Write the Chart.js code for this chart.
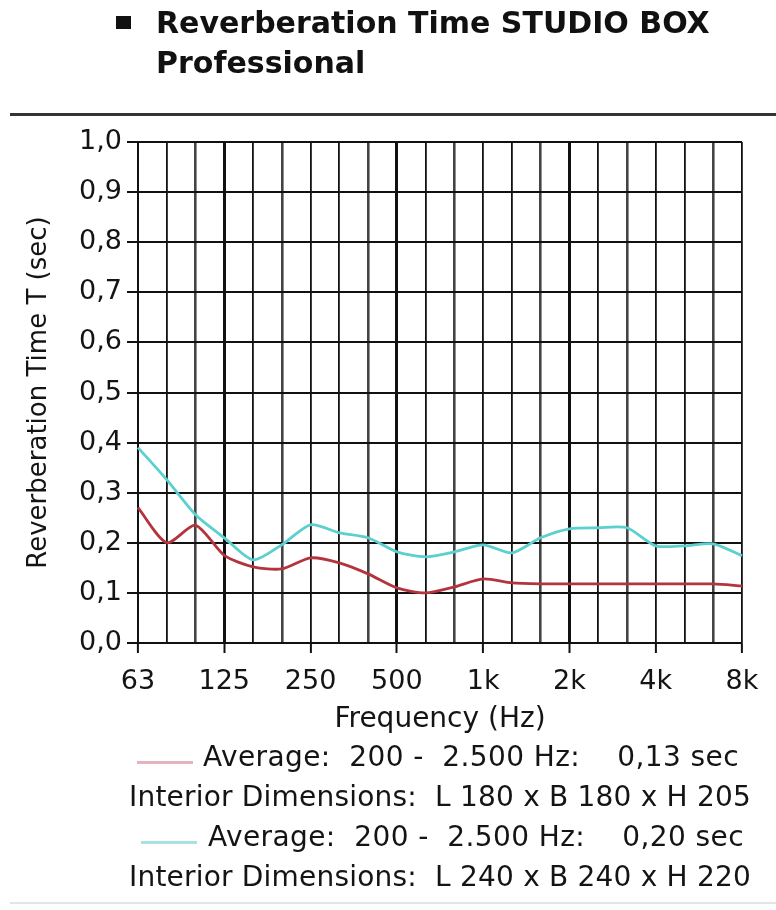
<!DOCTYPE html>
<html>
<head>
<meta charset="utf-8">
<script src="https://cdn.jsdelivr.net/npm/chart.js@4.4.1/dist/chart.umd.min.js"></script>
<style>
  body { margin: 0; background: #fff; font-family: "DejaVu Sans", sans-serif; color: #141414; }
  #page { position: relative; width: 776px; height: 910px; overflow: hidden; }
  #chartBox { position: absolute; left: 0; top: 0; width: 776px; height: 740px; }
  .bullet { position: absolute; left: 116px; top: 16px; width: 15px; height: 13px; background: #111; }
  #title { position: absolute; left: 156px; top: 3px; font-weight: bold; font-size: 30px; line-height: 40px; color: #111; white-space: pre; }
  .rule { position: absolute; left: 10px; width: 766px; }
  .row { position: absolute; font-size: 28px; line-height: 40px; white-space: pre; }
  .avg { letter-spacing: 0.4px; }
  .dim { letter-spacing: 0.2px; }
  .swatch { position: absolute; height: 3px; width: 56px; }
</style>
</head>
<body>
<div id="page">
  <div id="chartBox"><canvas id="rtChart"></canvas></div>

  <div class="bullet"></div>
  <div id="title">Reverberation Time STUDIO BOX
Professional</div>
  <div class="rule" style="top:113px;height:3px;background:#333;"></div>

  <!-- legend -->
  <div class="swatch" style="left:137px;top:761px;background:#e2b4be;"></div>
  <div class="row avg" style="left:203px;top:737px;">Average:  200 -  2.500 Hz:    0,13 sec</div>
  <div class="row dim" style="left:129px;top:777px;">Interior Dimensions:  L 180 x B 180 x H 205</div>
  <div class="swatch" style="left:141px;top:841px;background:#a6e2de;"></div>
  <div class="row avg" style="left:208px;top:817px;">Average:  200 -  2.500 Hz:    0,20 sec</div>
  <div class="row dim" style="left:129px;top:857px;">Interior Dimensions:  L 240 x B 240 x H 220</div>
  <div class="rule" style="top:902px;height:2px;background:#e4e4e4;"></div>
</div>

<script>
// ── Data ────────────────────────────────────────────────────────────
const categories = ['63', '80', '100', '125', '160', '200', '250', '315', '400', '500', '630',
                    '800', '1k', '1.25k', '1.6k', '2k', '2.5k', '3.15k', '4k', '5k', '6.3k', '8k'];
const xTickLabels = ['63', '125', '250', '500', '1k', '2k', '4k', '8k'];
const yTickLabels = ['0,0', '0,1', '0,2', '0,3', '0,4', '0,5', '0,6', '0,7', '0,8', '0,9', '1,0'];

// Room L 180 x B 180 x H 205 (red)
const rtSmall = [0.27, 0.20, 0.235, 0.175, 0.152, 0.148, 0.17, 0.16, 0.138, 0.11, 0.10,
                 0.112, 0.128, 0.12, 0.118, 0.118, 0.118, 0.118, 0.118, 0.118, 0.118, 0.114];
// Room L 240 x B 240 x H 220 (cyan)
const rtLarge = [0.39, 0.326, 0.256, 0.21, 0.166, 0.196, 0.236, 0.22, 0.21, 0.182, 0.172,
                 0.182, 0.196, 0.18, 0.21, 0.228, 0.23, 0.23, 0.194, 0.194, 0.198, 0.174];

Chart.defaults.font.family = '"DejaVu Sans", sans-serif';
Chart.defaults.color = '#141414';

// ── Grid styling helpers ────────────────────────────────────────────
const isMajor = i => xTickLabels.includes(categories[i]);
const vLineWidth = ctx => {
    const i = ctx.index;
    if (i === 3 || i === 9 || i === 15) return 3;
    if (i % 3 === 2) return 2.6;
    return 1.8;
};
const vLineColor = ctx => (ctx.index % 3 === 2 ? '#444' : '#111');

const rtChart = new Chart(document.getElementById('rtChart'), {
    type: 'line',
    data: {
        labels: categories,
        datasets: [
            {
                label: 'L 180 x B 180 x H 205',
                data: rtSmall,
                borderColor: '#b3343e',
                borderWidth: 2.8,
                pointRadius: 0,
                tension: 0.25,
            },
            {
                label: 'L 240 x B 240 x H 220',
                data: rtLarge,
                borderColor: '#5ccfcf',
                borderWidth: 2.8,
                pointRadius: 0,
                tension: 0.25,
            }
        ]
    },
    options: {
        responsive: true,
        maintainAspectRatio: false,
        animation: false,
        layout: { padding: { top: 142, right: 34, bottom: 0, left: 0 } },
        plugins: {
            legend: { display: false },
            tooltip: { enabled: false }
        },
        scales: {
            x: {
                afterFit: scale => { scale.height = 97; },
                grid: {
                    color: vLineColor,
                    lineWidth: vLineWidth,
                    tickLength: 10,
                    tickColor: ctx => (isMajor(ctx.index) ? '#111' : 'rgba(0,0,0,0)'),
                    tickWidth: 2
                },
                border: { color: '#111', width: 2 },
                ticks: {
                    autoSkip: false,
                    maxRotation: 0,
                    padding: 13,
                    font: { size: 27 },
                    callback: (val, i) => (isMajor(i) ? categories[i] : '')
                },
                title: {
                    display: true,
                    text: 'Frequency (Hz)',
                    font: { size: 28 },
                    padding: { top: 0, bottom: 3 }
                }
            },
            y: {
                min: 0,
                max: 1,
                afterFit: scale => { scale.width = 138; },
                grid: {
                    color: '#111',
                    lineWidth: 2,
                    tickLength: 11,
                    tickColor: '#111',
                    tickWidth: 2
                },
                border: { color: '#111', width: 2 },
                ticks: {
                    stepSize: 0.1,
                    padding: 5,
                    font: { size: 27 },
                    callback: (val, i) => yTickLabels[i]
                },
                title: {
                    display: true,
                    text: 'Reverberation Time T (sec)',
                    font: { size: 26 },
                    padding: { top: 24, bottom: 0 }
                }
            }
        }
    }
});
</script>
</body>
</html>
